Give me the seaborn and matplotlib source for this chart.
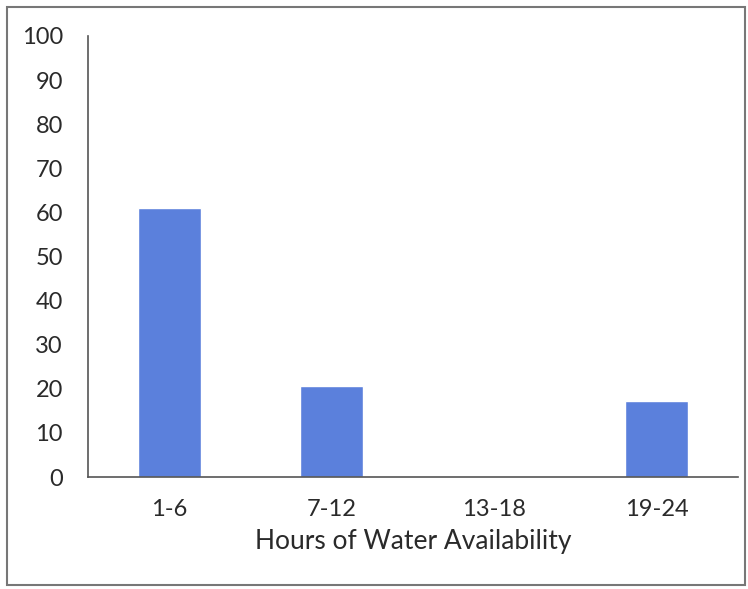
import matplotlib
matplotlib.use("Agg")
import matplotlib.pyplot as plt
import seaborn as sns
import pandas as pd
from matplotlib.patches import Rectangle

# Data
hours = ["1-6", "7-12", "13-18", "19-24"]
percent = [61, 20.6, 0, 17.3]

sns.set_style("white")
plt.rcParams['font.family'] = ['Lato', 'DejaVu Sans']

df = pd.DataFrame({"hours": hours, "percent": percent})

fig = plt.figure(figsize=(7.48, 5.89), dpi=100)
ax = fig.add_axes([0.1176, 0.190, 0.869, 0.749])

sns.barplot(data=df, x="hours", y="percent", color="#5b80dc", saturation=1,
            width=0.39, ax=ax)

ax.set_ylim(0, 100)
ax.set_yticks(range(0, 101, 10))
ax.set_xlim(-0.5, 3.5)
ax.tick_params(axis="both", length=0, colors="#2a2a2a")
ax.tick_params(axis="y", pad=18, labelsize=17)
ax.tick_params(axis="x", pad=16, labelsize=17)
ax.set_ylabel("")
ax.set_xlabel("Hours of Water Availability", fontsize=19, color="#2a2a2a", labelpad=6)

for s in ["top", "right"]:
    ax.spines[s].set_visible(False)
for s in ["left", "bottom"]:
    ax.spines[s].set_color("#555555")
    ax.spines[s].set_linewidth(1.2)

# outer frame of the scanned chart
fig.patches.append(Rectangle((7 / 748, 4 / 589), 738 / 748, 578 / 589,
                             transform=fig.transFigure, fill=False,
                             edgecolor="#777777", linewidth=1.5))

fig.savefig("out.png", dpi=100)
